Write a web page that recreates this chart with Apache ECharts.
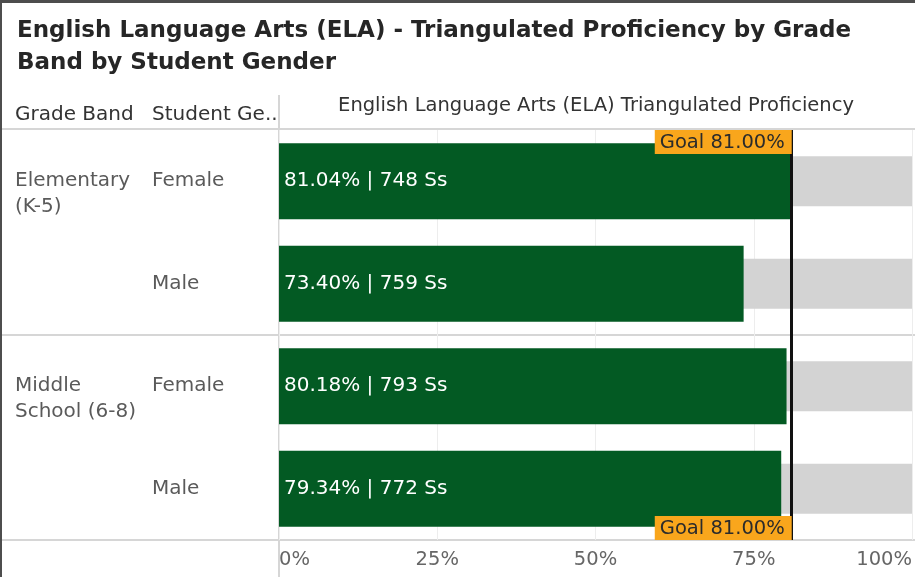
<!DOCTYPE html>
<html>
<head>
<meta charset="utf-8">
<script src="https://cdn.jsdelivr.net/npm/echarts@6/dist/echarts.min.js"></script>
<style>
  html, body { margin: 0; padding: 0; background: #fff; }
  #chart { width: 915px; height: 577px; }
</style>
</head>
<body>
<div id="chart"></div>
<script>
// chart data, one entry per row (grade band x gender)
const gradeBands = ['Elementary\n(K-5)', 'Elementary\n(K-5)', 'Middle\nSchool (6-8)', 'Middle\nSchool (6-8)']
const genders = ['Female', 'Male', 'Female', 'Male']
const proficiency = [81.04, 73.40, 80.18, 79.34]
const students = [748, 759, 793, 772]
const track = [100, 100, 100, 100]   // grey background bar up to 100%
const goal = 81

const rowKeys = genders.map((g, i) => gradeBands[i] + '|' + g)

// layout
const FONT = 'DejaVu Sans'
const W = 915, H = 577
const gridLeft = 279, gridRight = 2, gridTop = 130, gridBottom = 37
const plotBottom = H - gridBottom
const band = (plotBottom - gridTop) / rowKeys.length
const ruleColor = '#d6d6d6'

const chart = echarts.init(document.getElementById('chart'), null, { renderer: 'canvas' })

const hline = (y) => ({
  type: 'line', silent: true,
  shape: { x1: 0, y1: y, x2: W, y2: y },
  style: { stroke: ruleColor, lineWidth: 2 }
})

const headerText = (text, x, y, size, color, align) => ({
  type: 'text', silent: true, x: x, y: y,
  style: { text: text, fontFamily: FONT, fontSize: size, fill: color, align: align || 'left', verticalAlign: 'middle' }
})

const goalLabel = 'Goal ' + goal.toFixed(2) + '%'
const goalLabelStyle = {
  show: true, formatter: goalLabel, distance: 0, align: 'right',
  backgroundColor: '#f9a61c', color: '#2b2b2b', fontFamily: FONT, fontSize: 19.5,
  padding: [3, 7, 1, 5]
}

chart.setOption({
  animation: false,
  textStyle: { fontFamily: FONT },
  title: {
    text: 'English Language Arts (ELA) - Triangulated Proficiency by Grade\nBand by Student Gender',
    left: 12, top: 10,
    textStyle: { fontFamily: FONT, fontWeight: 'bold', fontSize: 23, lineHeight: 32, color: '#262626' }
  },
  grid: { left: gridLeft, right: gridRight, top: gridTop, bottom: gridBottom },
  xAxis: {
    type: 'value', min: 0, max: 100, interval: 25,
    axisLine: { show: false }, axisTick: { show: false },
    splitLine: { lineStyle: { color: '#ededed', width: 1 } },
    axisLabel: {
      formatter: '{value}%', fontSize: 19.5, color: '#666', margin: 10,
      alignMinLabel: 'left', alignMaxLabel: 'right'
    }
  },
  yAxis: [
    {
      type: 'category', inverse: true, data: rowKeys, offset: 0,
      axisLine: { show: false }, axisTick: { show: false },
      axisLabel: {
        interval: 0, align: 'left', margin: gridLeft - 152, fontSize: 20, color: '#5a5a5a',
        formatter: (v, i) => genders[i]
      }
    },
    {
      type: 'category', inverse: true, data: rowKeys, position: 'left', offset: 0,
      axisLine: { show: false }, axisTick: { show: false },
      axisLabel: {
        interval: 0, align: 'left', margin: gridLeft - 15, fontSize: 20, lineHeight: 26, color: '#5a5a5a',
        // grade band only on the first row of its group; leading blank line puts line 1 on the row centre
        formatter: (v, i) => (i === 0 || gradeBands[i] !== gradeBands[i - 1]) ? '\n' + gradeBands[i] : ''
      }
    }
  ],
  series: [
    {
      type: 'bar', name: 'Track', yAxisIndex: 1, data: track, barWidth: 50, silent: true, z: 1,
      itemStyle: { color: '#d3d3d3' }
    },
    {
      type: 'bar', name: 'Proficiency', yAxisIndex: 0, data: proficiency, barWidth: 76, z: 2,
      itemStyle: { color: '#035a23' },
      label: {
        show: true, position: 'insideLeft', distance: 5, color: '#fff', fontSize: 20,
        formatter: p => p.value.toFixed(2) + '% | ' + students[p.dataIndex] + ' Ss'
      },
      markLine: {
        symbol: 'none', silent: true,
        lineStyle: { color: '#111', width: 3, type: 'solid' },
        data: [
          { xAxis: goal, label: Object.assign({}, goalLabelStyle, { position: 'start', verticalAlign: 'top' }) },
          { xAxis: goal, label: Object.assign({}, goalLabelStyle, { position: 'end', verticalAlign: 'bottom' }) }
        ]
      }
    }
  ],
  graphic: [
    hline(gridTop - 1),
    hline(gridTop + band * 2),
    hline(plotBottom),
    { type: 'line', silent: true, shape: { x1: gridLeft, y1: 95, x2: gridLeft, y2: H }, style: { stroke: ruleColor, lineWidth: 2 } },
    headerText('Grade Band', 15, 115, 20, '#333'),
    headerText('Student Ge..', 152, 115, 20, '#333'),
    headerText('English Language Arts (ELA) Triangulated Proficiency', (gridLeft + W - gridRight) / 2, 106, 19.5, '#333', 'center'),
    { type: 'rect', silent: true, shape: { x: 0, y: 0, width: W, height: 3 }, style: { fill: '#4d4d4d' } },
    { type: 'rect', silent: true, shape: { x: 0, y: 0, width: 2, height: H }, style: { fill: '#4d4d4d' } }
  ]
})
</script>
</body>
</html>
